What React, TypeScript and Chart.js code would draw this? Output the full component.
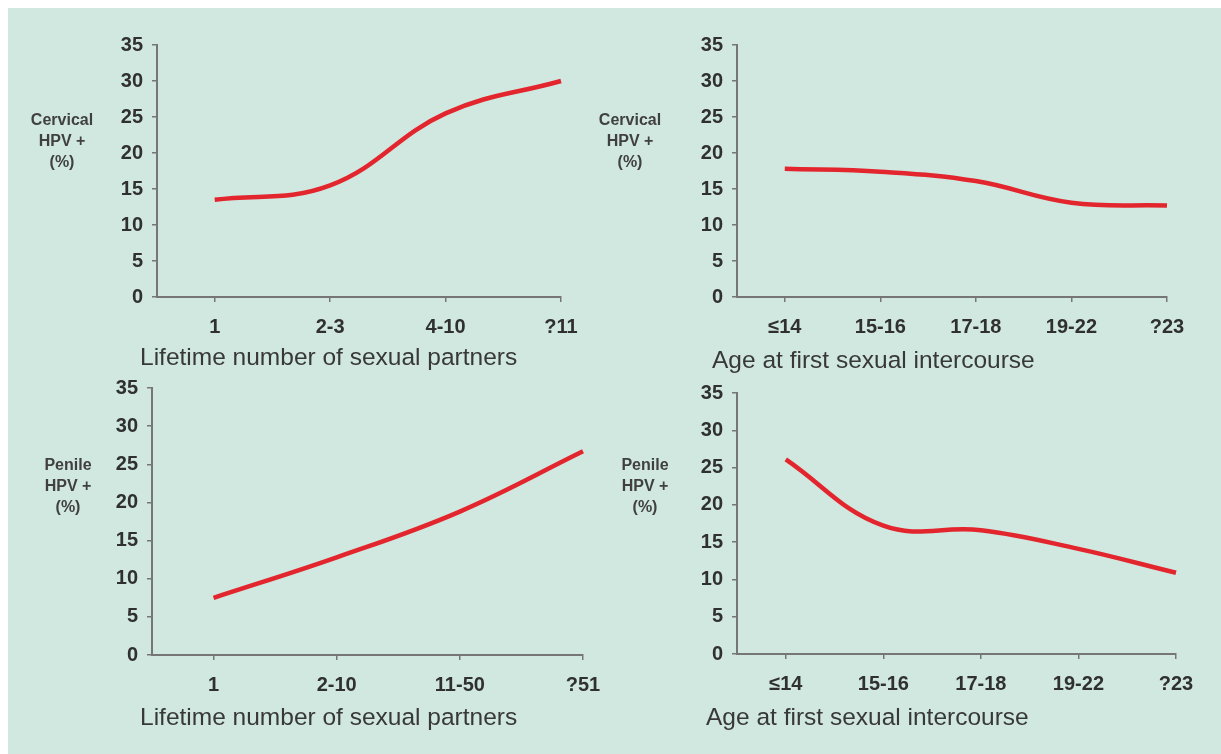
import React, { useEffect, useRef } from 'react';
import { Chart, registerables } from 'chart.js';

Chart.register(...registerables);

// ---- data ----
const partnerLabelsCervical = ['1', '2-3', '4-10', '?11'];
const cervicalByPartners = [13.5, 15.5, 25.5, 30.0];

const ageLabels = ['≤14', '15-16', '17-18', '19-22', '?23'];
const cervicalByAge = [17.8, 17.4, 16.1, 13.1, 12.7];

const partnerLabelsPenile = ['1', '2-10', '11-50', '?51'];
const penileByPartners = [7.5, 12.8, 18.8, 26.7];

const penileByAge = [26.1, 17.2, 16.6, 14.1, 10.9];

const yMin = 0;
const yMax = 35;
const yStep = 5;

const xTitlePartners = 'Lifetime number of sexual partners';
const xTitleAge = 'Age at first sexual intercourse';
const yTitleCervical = ['Cervical', 'HPV +', '(%)'];
const yTitlePenile = ['Penile', 'HPV +', '(%)'];

// ---- styling ----
const FONT = '"Liberation Sans", Arial, Helvetica, sans-serif';
const BG = '#d0e8df';
const AXIS = '#767676';
const TEXT = '#303030';
const RED = '#e3252e';

type Panel = {
  labels: string[];
  values: number[];
  xTitle: string;
  yTitle: string[];
  left: number;
  top: number;
  width: number;
  height: number;
  yw: number;
  xh: number;
  pt: number;
  pr: number;
  xDx: number;
  xDy: number;
  yDx: number;
  yDy: number;
};

const panels: Panel[] = [
  {
    labels: partnerLabelsCervical, values: cervicalByPartners, xTitle: xTitlePartners, yTitle: yTitleCervical,
    left: 0, top: 0, width: 590, height: 372, yw: 149, xh: 83, pt: 37, pr: 37,
    xDx: -17, xDy: 61, yDx: -95, yDy: 97,
  },
  {
    labels: ageLabels, values: cervicalByAge, xTitle: xTitleAge, yTitle: yTitleCervical,
    left: 590, top: 0, width: 623, height: 372, yw: 139, xh: 83, pt: 37, pr: 54,
    xDx: -25, xDy: 64, yDx: -107, yDy: 97,
  },
  {
    labels: partnerLabelsPenile, values: penileByPartners, xTitle: xTitlePartners, yTitle: yTitlePenile,
    left: 0, top: 350, width: 610, height: 396, yw: 144, xh: 99, pt: 30, pr: 35,
    xDx: -12, xDy: 63, yDx: -84, yDy: 99,
  },
  {
    labels: ageLabels, values: penileByAge, xTitle: xTitleAge, yTitle: yTitlePenile,
    left: 590, top: 350, width: 623, height: 396, yw: 139, xh: 100, pt: 35, pr: 45,
    xDx: -31, xDy: 64, yDx: -92, yDy: 94,
  },
];

const captionPlugin = {
  id: 'captions',
  afterDraw(chart: any, _args: any, opts: any) {
    const { ctx, chartArea } = chart;
    ctx.save();
    ctx.fillStyle = '#383838';
    ctx.font = `24.5px ${FONT}`;
    ctx.textAlign = 'left';
    ctx.textBaseline = 'middle';
    ctx.fillText(opts.xTitle, chartArea.left + opts.xDx, chartArea.bottom + opts.xDy);
    ctx.fillStyle = '#404040';
    ctx.font = `bold 16px ${FONT}`;
    ctx.textAlign = 'center';
    (opts.yLines as string[]).forEach((line, i) => {
      ctx.fillText(line, chartArea.left + opts.yDx, chartArea.top + opts.yDy + (i - 1) * 21);
    });
    ctx.restore();
  },
};

function PanelChart({ p }: { p: Panel }) {
  const ref = useRef<HTMLCanvasElement | null>(null);
  useEffect(() => {
    if (!ref.current) return;
    const chart = new Chart(ref.current, {
      type: 'line',
      data: {
        datasets: [
          {
            data: p.values.map((v, i) => ({ x: i, y: v })),
            borderColor: RED,
            borderWidth: 4.5,
            pointRadius: 0,
            tension: 0.4,
            fill: false,
            clip: false as any,
          },
        ],
      },
      options: {
        animation: false,
        responsive: false,
        maintainAspectRatio: false,
        layout: { padding: { top: p.pt, right: p.pr, left: 0, bottom: 0 } },
        plugins: {
          legend: { display: false },
          tooltip: { enabled: false },
          captions: {
            xTitle: p.xTitle, yLines: p.yTitle,
            xDx: p.xDx, xDy: p.xDy, yDx: p.yDx, yDy: p.yDy,
          },
        } as any,
        scales: {
          x: {
            type: 'linear',
            min: -0.5,
            max: p.labels.length - 1,
            afterBuildTicks: (s: any) => {
              s.ticks = p.labels.map((_, i) => ({ value: i }));
            },
            afterFit: (s: any) => {
              s.height = p.xh;
            },
            ticks: {
              autoSkip: false,
              maxRotation: 0,
              padding: 13,
              color: TEXT,
              font: { family: FONT, size: 20, weight: 'bold' },
              callback: (v: any) => p.labels[Math.round(Number(v))] ?? '',
            },
            grid: { drawOnChartArea: false, drawTicks: true, tickLength: 5, color: AXIS, lineWidth: 1.5 },
            border: { display: true, color: AXIS, width: 2 },
          },
          y: {
            type: 'linear',
            min: yMin,
            max: yMax,
            afterFit: (s: any) => {
              s.width = p.yw;
            },
            ticks: {
              stepSize: yStep,
              padding: 9,
              color: TEXT,
              font: { family: FONT, size: 20, weight: 'bold' },
            },
            grid: { drawOnChartArea: false, drawTicks: true, tickLength: 5, color: AXIS, lineWidth: 1.5 },
            border: { display: true, color: AXIS, width: 2 },
          },
        },
      } as any,
      plugins: [captionPlugin as any],
    });
    return () => chart.destroy();
  }, [p]);
  return (
    <canvas
      ref={ref}
      width={p.width}
      height={p.height}
      style={{ position: 'absolute', left: p.left, top: p.top, width: p.width, height: p.height }}
    />
  );
}

export default function App() {
  return (
    <div
      style={{
        position: 'fixed',
        left: 8,
        top: 8,
        width: 1213,
        height: 746,
        background: BG,
        overflow: 'hidden',
      }}
    >
      {panels.map((p, i) => (
        <PanelChart key={i} p={p} />
      ))}
    </div>
  );
}
